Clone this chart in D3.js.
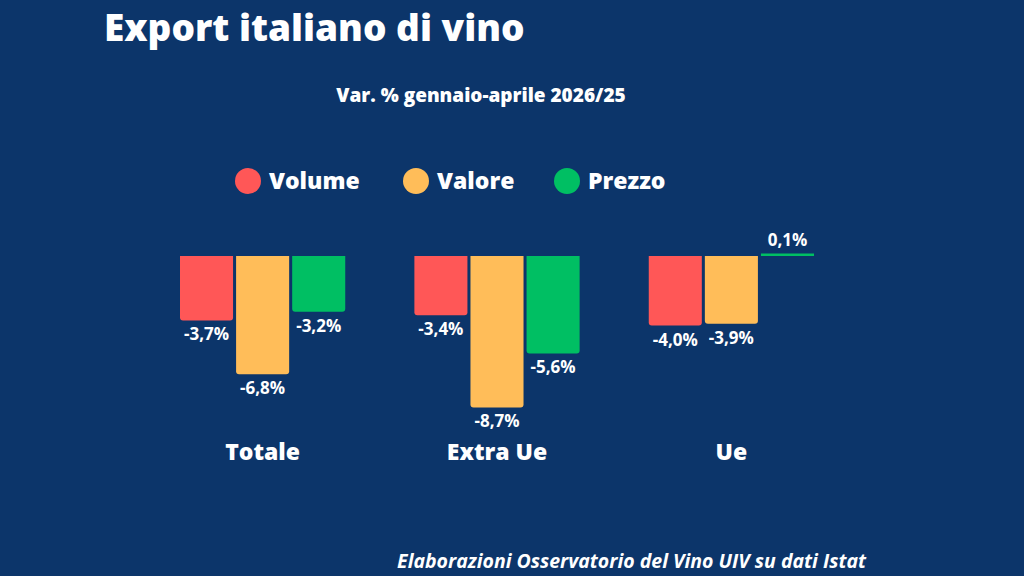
<!DOCTYPE html>
<html>
<head>
<meta charset="utf-8">
<script src="https://cdn.jsdelivr.net/npm/d3@7"></script>
<style>
  body { margin: 0; background: #0c356a; }
  svg { display: block; font-family: "Open Sans", sans-serif; }
</style>
</head>
<body>
<svg id="chart" width="1024" height="576"></svg>
<script>
// data
const categories = ["Totale", "Extra Ue", "Ue"];
const seriesNames = ["Volume", "Valore", "Prezzo"];
const volume = [-3.7, -3.4, -4.0];
const valore = [-6.8, -8.7, -3.9];
const prezzo = [-3.2, -5.6, 0.1];
const seriesColors = ["#ff5757", "#ffbd59", "#00bf63"];

const values = [volume, valore, prezzo];
const rows = [];
categories.forEach((c, i) => {
  seriesNames.forEach((s, j) => {
    rows.push({ cat: c, series: s, value: values[j][i], color: seriesColors[j] });
  });
});

const svg = d3.select("#chart");
svg.append("rect").attr("width", 1024).attr("height", 576).attr("fill", "#0c356a");

// title
svg.append("text")
  .attr("x", 104).attr("y", 41)
  .attr("fill", "#fff")
  .attr("font-size", 37)
  .attr("font-weight", 800)
  .text("Export italiano di vino");

svg.append("text")
  .attr("x", 481).attr("y", 102)
  .attr("text-anchor", "middle")
  .attr("fill", "#fff")
  .attr("font-size", 19)
  .attr("font-weight", 800)
  .text("Var. % gennaio-aprile 2026/25");

// legend
const legendX = [248, 416, 567];
const legend = svg.selectAll(".legend")
  .data(seriesNames)
  .enter().append("g")
  .attr("transform", (d, i) => `translate(${legendX[i]},181)`);
legend.append("circle").attr("r", 13).attr("fill", (d, i) => seriesColors[i]);
legend.append("text")
  .attr("x", 21).attr("dy", "0.35em")
  .attr("fill", "#fff")
  .attr("font-size", 23)
  .attr("font-weight", 800)
  .text(d => d);

// scales
const x0 = d3.scaleBand().domain(categories).range([180, 814]).paddingInner(0.295).paddingOuter(0);
const x1 = d3.scaleBand().domain(seriesNames).range([0, x0.bandwidth()]).paddingInner(0.054).paddingOuter(0);
const y = d3.scaleLinear().domain([-10, 0]).range([430, 256]);

function barPath(d) {
  const x = x0(d.cat) + x1(d.series);
  const w = x1.bandwidth();
  const r = 3;
  if (d.value >= 0) {
    const top = Math.min(y(d.value), y(0) - 2.5);
    return `M${x},${y(0)}V${top}H${x + w}V${y(0)}Z`;
  }
  const b = y(d.value);
  return `M${x},${y(0)}H${x + w}V${b - r}Q${x + w},${b} ${x + w - r},${b}H${x + r}Q${x},${b} ${x},${b - r}Z`;
}

svg.selectAll(".bar")
  .data(rows)
  .enter().append("path")
  .attr("class", "bar")
  .attr("d", barPath)
  .attr("fill", d => d.color);

const fmt = v => d3.format(".1f")(v).replace("\u2212", "-").replace(".", ",") + "%";

svg.selectAll(".val")
  .data(rows)
  .enter().append("text")
  .attr("x", d => x0(d.cat) + x1(d.series) + x1.bandwidth() / 2)
  .attr("y", d => d.value >= 0 ? y(d.value) - 8 : y(d.value) + 20)
  .attr("text-anchor", "middle")
  .attr("fill", "#fff")
  .attr("font-size", 17)
  .attr("font-weight", 700)
  .text(d => fmt(d.value));

// category labels
svg.selectAll(".cat")
  .data(categories)
  .enter().append("text")
  .attr("x", d => x0(d) + x0.bandwidth() / 2)
  .attr("y", 460)
  .attr("text-anchor", "middle")
  .attr("fill", "#fff")
  .attr("font-size", 23)
  .attr("font-weight", 800)
  .text(d => d);

// source
svg.append("text")
  .attr("x", 866).attr("y", 568)
  .attr("text-anchor", "end")
  .attr("fill", "#fff")
  .attr("font-size", 19.5)
  .attr("font-weight", 700)
  .attr("font-style", "italic")
  .text("Elaborazioni Osservatorio del Vino UIV su dati Istat");
</script>
</body>
</html>
